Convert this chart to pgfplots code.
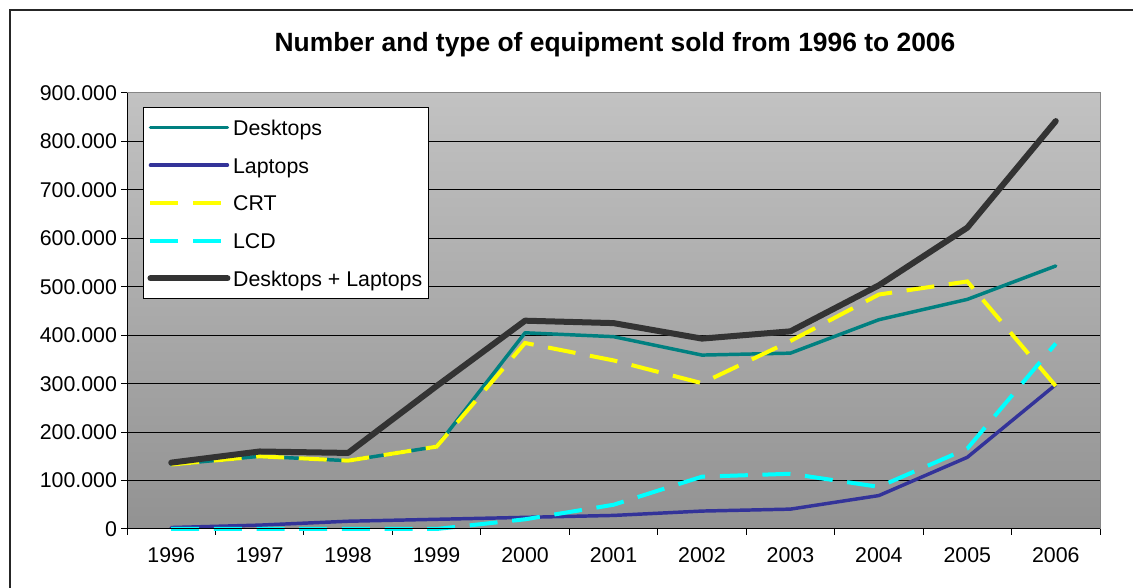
\documentclass[border=0pt]{standalone}
\usepackage{pgfplots}
\pgfplotsset{compat=1.18}
\usepackage{fontspec}
\setmainfont{Liberation Sans}

\definecolor{deskcol}{HTML}{008080}
\definecolor{lapcol}{HTML}{333399}
\definecolor{crtcol}{HTML}{FFFF00}
\definecolor{lcdcol}{HTML}{00FFFF}
\definecolor{sumcol}{HTML}{333333}
\definecolor{bgtop}{RGB}{194,194,194}
\definecolor{bgbot}{RGB}{146,146,146}

\begin{document}
\begin{tikzpicture}
\useasboundingbox (0,0) rectangle (849.75pt,441pt);
% chart frame
\draw[line width=0.9pt, black!85] (7.5pt,0) -- (7.5pt,433.5pt) -- (849.75pt,433.5pt);
% title
\node[anchor=base, font=\bfseries\fontsize{19.8}{23}\selectfont] at (461.25pt,402pt)
  {Number and type of equipment sold from 1996 to 2006};
\begin{axis}[
  at={(95.25pt,44.25pt)}, anchor=south west,
  width=729.75pt, height=327pt, scale only axis,
  xmin=-0.5, xmax=10.5, ymin=0, ymax=900000,
  clip=false,
  axis background/.style={top color=bgtop, bottom color=bgbot},
  axis line style={draw=gray!95, line width=0.75pt},
  xtick={0,...,10},
  xticklabels={1996,1997,1998,1999,2000,2001,2002,2003,2004,2005,2006},
  major x tick style={draw=none},
  minor xtick={-0.5,0.5,...,10.5},
  minor tick length=4.5pt,
  major tick length=4.5pt,
  tick align=outside,
  xtick pos=bottom, ytick pos=left,
  tick style={black, line width=0.75pt},
  ytick={0,100000,...,900000},
  yticklabels={0,100.000,200.000,300.000,400.000,500.000,600.000,700.000,800.000,900.000},
  scaled y ticks=false,
  ymajorgrids,
  grid style={black, line width=0.75pt},
  tick label style={font=\fontsize{16}{19}\selectfont},
  xticklabel style={yshift=-6pt},
  yticklabel style={xshift=0.5pt},
  legend cell align=left,
  legend image code/.code={\draw[#1] (0pt,0pt) -- (57.75pt,0pt);},
  legend style={at={(rel axis cs:0.0164,0.968)}, anchor=north west,
    draw=black, line width=0.75pt, fill=white,
    font=\fontsize{16}{19}\selectfont,
    nodes={text height=12pt, text depth=0pt},
    row sep=12.3pt, inner xsep=3pt, inner ysep=7pt},
  after end axis/.code={
    \draw[black, line width=0.75pt] (rel axis cs:0,1) -- (rel axis cs:0,0) -- (rel axis cs:1,0);
  },
]
\addplot[deskcol, line width=2.6pt, line cap=round, line join=round] coordinates {
  (0,133000) (1,150000) (2,141000) (3,170000) (4,405000) (5,397000)
  (6,359000) (7,363000) (8,432000) (9,474000) (10,543000)};
\addlegendentry{Desktops}
\addplot[lapcol, line width=2.6pt, line cap=round, line join=round] coordinates {
  (0,3000) (1,8000) (2,16000) (3,20000) (4,24000) (5,28000)
  (6,37000) (7,41000) (8,69000) (9,148000) (10,298000)};
\addlegendentry{Laptops}
\addplot[crtcol, line width=3pt, dash pattern=on 21pt off 11pt] coordinates {
  (0,133000) (1,150000) (2,141000) (3,170000) (4,384000) (5,348000)
  (6,301000) (7,388000) (8,484000) (9,511000) (10,295000)};
\addlegendentry{CRT}
\addplot[lcdcol, line width=3pt, dash pattern=on 21pt off 11pt] coordinates {
  (0,0) (1,0) (2,0) (3,0) (4,20000) (5,50000)
  (6,108000) (7,114000) (8,87000) (9,166000) (10,383000)};
\addlegendentry{LCD}
\addplot[sumcol, line width=4.5pt, line cap=round, line join=round] coordinates {
  (0,137000) (1,160000) (2,157000) (3,295000) (4,430000) (5,425000)
  (6,393000) (7,408000) (8,503000) (9,622000) (10,842000)};
\addlegendentry{Desktops + Laptops}
\end{axis}
\end{tikzpicture}
\end{document}
